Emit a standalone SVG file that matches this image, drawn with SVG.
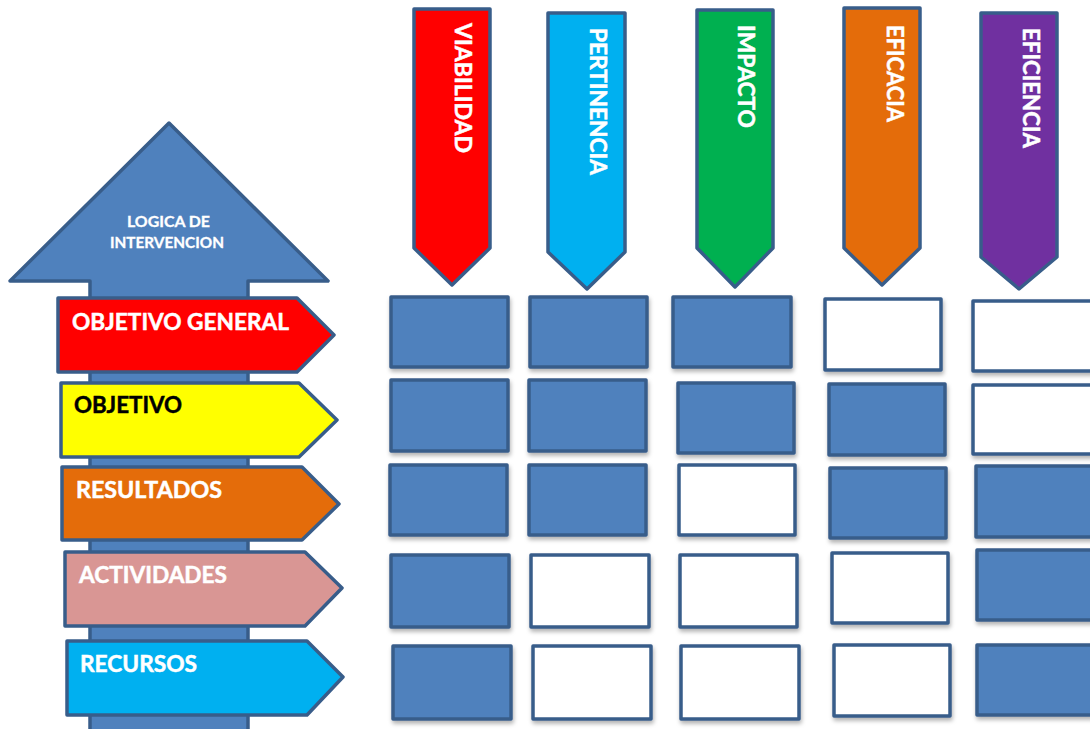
<svg xmlns="http://www.w3.org/2000/svg" width="1090" height="729" viewBox="0 0 1090 729">
<defs>
<filter id="sh" x="-10%" y="-10%" width="125%" height="130%">
<feDropShadow dx="1" dy="3" stdDeviation="2" flood-color="#000" flood-opacity="0.3"/>
</filter>
<style>
.stk{stroke:#385D8A;stroke-width:3.5;stroke-linejoin:round}
.box{stroke:#385D8A;stroke-width:3.5;stroke-linejoin:round;filter:url(#sh)}
.b{fill:#4F81BD}
.w{fill:#FFFFFF}
.lbl{font-family:Lato,"Liberation Sans",sans-serif;font-weight:bold;font-size:23px;fill:#FFFFFF;stroke:#FFFFFF;stroke-width:0.5}
.dark{fill:#000000;stroke:#000000}
.small{font-family:Lato,"Liberation Sans",sans-serif;font-weight:bold;font-size:15px;fill:#FFFFFF;stroke:#FFFFFF;stroke-width:0.3}
</style>
</defs>
<rect width="1090" height="729" fill="#FFFFFF"/>

<g id="logica">
<polygon class="stk" fill="#4F81BD" points="169,123 328,281 248,281 248,740 90,740 90,281 10,281"/>
<text class="small" x="127" y="227" textLength="83" lengthAdjust="spacingAndGlyphs">LOGICA DE</text>
<text class="small" x="110" y="248" textLength="114" lengthAdjust="spacingAndGlyphs">INTERVENCION</text>
</g>

<g id="row-objetivo-general">
<polygon class="stk" fill="#FF0000" points="58,298 297,298 334,335 297,372 58,372"/>
<text class="lbl" x="72" y="330" textLength="217" lengthAdjust="spacingAndGlyphs">OBJETIVO GENERAL</text>
</g>
<g id="row-objetivo">
<polygon class="stk" fill="#FFFF00" points="61,383 299,383 337,420 299,457 61,457"/>
<text class="lbl dark" x="74" y="413" textLength="108" lengthAdjust="spacingAndGlyphs">OBJETIVO</text>
</g>
<g id="row-resultados">
<polygon class="stk" fill="#E46C0A" points="62,467 302,467 339,504 302,540 62,540"/>
<text class="lbl" x="76" y="498" textLength="146" lengthAdjust="spacingAndGlyphs">RESULTADOS</text>
</g>
<g id="row-actividades">
<polygon class="stk" fill="#D99694" points="65,552 305,552 342,588 305,626 65,626"/>
<text class="lbl" x="79" y="583" textLength="148" lengthAdjust="spacingAndGlyphs">ACTIVIDADES</text>
</g>
<g id="row-recursos">
<polygon class="stk" fill="#00B0F0" points="67,641 307,641 343,677 307,715 67,715"/>
<text class="lbl" x="80" y="672" textLength="117" lengthAdjust="spacingAndGlyphs">RECURSOS</text>
</g>

<g id="col-viabilidad">
<polygon class="stk" fill="#FF0000" points="414,9 490,9 490,248 452,285 414,248"/>
<text class="lbl" transform="translate(455,23) rotate(90)" textLength="130" lengthAdjust="spacingAndGlyphs">VIABILIDAD</text>
</g>
<g id="col-pertinencia">
<polygon class="stk" fill="#00B0F0" points="548,13 625,13 625,252 587,289 548,252"/>
<text class="lbl" transform="translate(590,28) rotate(90)" textLength="147" lengthAdjust="spacingAndGlyphs">PERTINENCIA</text>
</g>
<g id="col-impacto">
<polygon class="stk" fill="#00B050" points="697,10 773,10 773,248 735,287 697,248"/>
<text class="lbl" transform="translate(738,25) rotate(90)" textLength="103" lengthAdjust="spacingAndGlyphs">IMPACTO</text>
</g>
<g id="col-eficacia">
<polygon class="stk" fill="#E46C0A" points="844,8 920,8 920,248 882,285 844,248"/>
<text class="lbl" transform="translate(887,25) rotate(90)" textLength="97" lengthAdjust="spacingAndGlyphs">EFICACIA</text>
</g>
<g id="col-eficiencia">
<polygon class="stk" fill="#7030A0" points="981,13 1057,13 1057,257 1019,289 981,257"/>
<text class="lbl" transform="translate(1023,28) rotate(90)" textLength="120" lengthAdjust="spacingAndGlyphs">EFICIENCIA</text>
</g>

<g id="grid">
<g id="grid-row1">
<rect class="box b" x="391" y="297" width="117" height="70"/>
<rect class="box b" x="530" y="297" width="117" height="70"/>
<rect class="box b" x="673" y="297" width="118" height="70"/>
<rect class="box w" x="825" y="299" width="116" height="71"/>
<rect class="box w" x="973" y="301" width="130" height="70"/>
</g>
<g id="grid-row2">
<rect class="box b" x="391" y="380" width="117" height="71"/>
<rect class="box b" x="529" y="380" width="117" height="71"/>
<rect class="box b" x="678" y="383" width="116" height="70"/>
<rect class="box b" x="829" y="384" width="116" height="71"/>
<rect class="box w" x="973" y="385" width="130" height="69"/>
</g>
<g id="grid-row3">
<rect class="box b" x="390" y="465" width="117" height="70"/>
<rect class="box b" x="529" y="465" width="117" height="70"/>
<rect class="box w" x="679" y="465" width="116" height="70"/>
<rect class="box b" x="830" y="468" width="116" height="70"/>
<rect class="box b" x="976" y="466" width="130" height="71"/>
</g>
<g id="grid-row4">
<rect class="box b" x="391" y="555" width="118" height="72"/>
<rect class="box w" x="531" y="555" width="118" height="72"/>
<rect class="box w" x="680" y="555" width="117" height="72"/>
<rect class="box w" x="832" y="553" width="116" height="70"/>
<rect class="box b" x="977" y="550" width="130" height="70"/>
</g>
<g id="grid-row5">
<rect class="box b" x="393" y="646" width="118" height="73"/>
<rect class="box w" x="533" y="646" width="118" height="73"/>
<rect class="box w" x="681" y="646" width="118" height="73"/>
<rect class="box w" x="834" y="645" width="116" height="71"/>
<rect class="box b" x="977" y="645" width="130" height="70"/>
</g>
</g>
<g id="connectors"/>
</svg>
